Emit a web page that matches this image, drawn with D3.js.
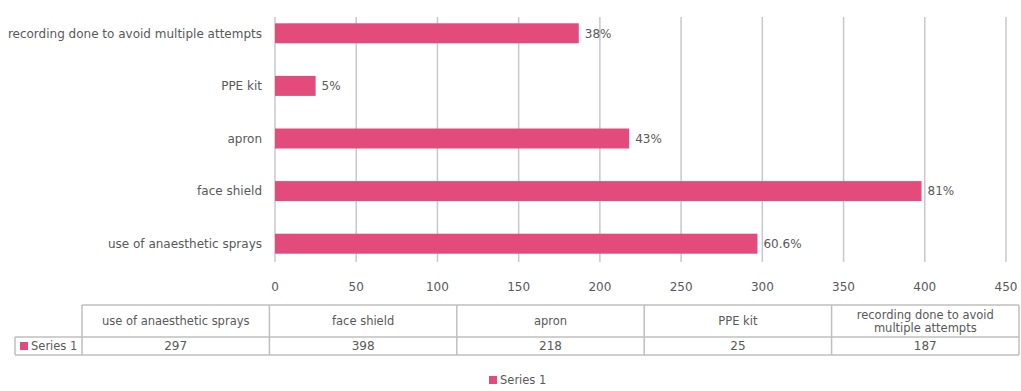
<!DOCTYPE html>
<html>
<head>
<meta charset="utf-8">
<script src="https://cdn.jsdelivr.net/npm/d3@7"></script>
<style>
  body { margin: 0; background: #fff; }
  svg text { font-family: "DejaVu Sans", sans-serif; fill: #595959; }
</style>
</head>
<body>
<svg id="chart" width="1021" height="391"></svg>
<script>
// data, in table order (bottom bar first)
var categories = ["use of anaesthetic sprays", "face shield", "apron", "PPE kit", "recording done to avoid multiple attempts"];
var values = [297, 398, 218, 25, 187];
var labels = ["60.6%", "81%", "43%", "5%", "38%"];
var xTicks = [0, 50, 100, 150, 200, 250, 300, 350, 400, 450];
var headerLines = [["use of anaesthetic sprays"], ["face shield"], ["apron"], ["PPE kit"], ["recording done to avoid", "multiple attempts"]];
var seriesName = "Series 1";

var barColor = "#E24B7B";
var gridColor = "#c8c8c8";
var lineColor = "#bfbfbf";

var svg = d3.select("#chart");

var x = d3.scaleLinear().domain([0, 450]).range([275, 1006]);
// top category first on screen
var y = d3.scaleBand()
    .domain(categories.slice().reverse())
    .range([7, 270])
    .paddingInner(0.62)
    .paddingOuter(0.31);

// gridlines
svg.append("g").selectAll("line")
    .data(xTicks)
    .enter().append("line")
    .attr("x1", function(d) { return x(d); })
    .attr("x2", function(d) { return x(d); })
    .attr("y1", 17)
    .attr("y2", 262)
    .attr("stroke", gridColor)
    .attr("stroke-width", 1.5);

// bars
svg.append("g").selectAll("rect")
    .data(categories)
    .enter().append("rect")
    .attr("x", x(0))
    .attr("y", function(d) { return y(d); })
    .attr("width", function(d, i) { return x(values[i]) - x(0); })
    .attr("height", y.bandwidth())
    .attr("fill", barColor);

// data labels
svg.append("g").selectAll("text")
    .data(categories)
    .enter().append("text")
    .attr("x", function(d, i) { return x(values[i]) + 6; })
    .attr("y", function(d) { return y(d) + y.bandwidth() / 2; })
    .attr("dy", "0.35em")
    .attr("font-size", 12)
    .text(function(d, i) { return labels[i]; });

// category labels
svg.append("g").selectAll("text")
    .data(categories)
    .enter().append("text")
    .attr("x", 262)
    .attr("y", function(d) { return y(d) + y.bandwidth() / 2; })
    .attr("dy", "0.35em")
    .attr("text-anchor", "end")
    .attr("font-size", 12)
    .text(function(d) { return d; });

// x tick labels
svg.append("g").selectAll("text")
    .data(xTicks)
    .enter().append("text")
    .attr("x", function(d) { return x(d); })
    .attr("y", 287)
    .attr("dy", "0.35em")
    .attr("text-anchor", "middle")
    .attr("font-size", 12)
    .text(function(d) { return d; });

// data table
var colX = d3.scaleBand().domain(d3.range(categories.length)).range([82, 1019]);
var tTop = 305, tMid = 337, tBot = 355, tLeft = 15;
var table = svg.append("g").attr("stroke", lineColor).attr("stroke-width", 1.5);
table.append("line").attr("x1", 82).attr("x2", 1019).attr("y1", tTop).attr("y2", tTop);
table.append("line").attr("x1", tLeft).attr("x2", 1019).attr("y1", tMid).attr("y2", tMid);
table.append("line").attr("x1", tLeft).attr("x2", 1019).attr("y1", tBot).attr("y2", tBot);
table.append("line").attr("x1", tLeft).attr("x2", tLeft).attr("y1", tMid).attr("y2", tBot);
table.selectAll(".v")
    .data(d3.range(categories.length + 1))
    .enter().append("line")
    .attr("x1", function(i) { return i < categories.length ? colX(i) : 1019; })
    .attr("x2", function(i) { return i < categories.length ? colX(i) : 1019; })
    .attr("y1", tTop)
    .attr("y2", tBot);

svg.append("g").selectAll("text")
    .data(headerLines)
    .enter().append("text")
    .attr("text-anchor", "middle")
    .attr("font-size", 11.5)
    .each(function(lines, i) {
        var t = d3.select(this);
        var cy = (tTop + tMid) / 2 - (lines.length - 1) * 6.5;
        lines.forEach(function(s, k) {
            t.append("tspan")
                .attr("x", colX(i) + colX.bandwidth() / 2)
                .attr("y", cy + k * 13)
                .attr("dy", "0.35em")
                .text(s);
        });
    });

svg.append("g").selectAll("text")
    .data(values)
    .enter().append("text")
    .attr("x", function(d, i) { return colX(i) + colX.bandwidth() / 2; })
    .attr("y", (tMid + tBot) / 2)
    .attr("dy", "0.35em")
    .attr("text-anchor", "middle")
    .attr("font-size", 12)
    .text(function(d) { return d; });

svg.append("rect").attr("x", 20).attr("y", 342).attr("width", 8).attr("height", 8).attr("fill", barColor);
svg.append("text").attr("x", 31).attr("y", 346).attr("dy", "0.35em").attr("font-size", 11.5).text(seriesName);

// legend
svg.append("rect").attr("x", 489).attr("y", 376).attr("width", 8).attr("height", 8).attr("fill", barColor);
svg.append("text").attr("x", 500).attr("y", 380).attr("dy", "0.35em").attr("font-size", 11.5).text(seriesName);
</script>
</body>
</html>
